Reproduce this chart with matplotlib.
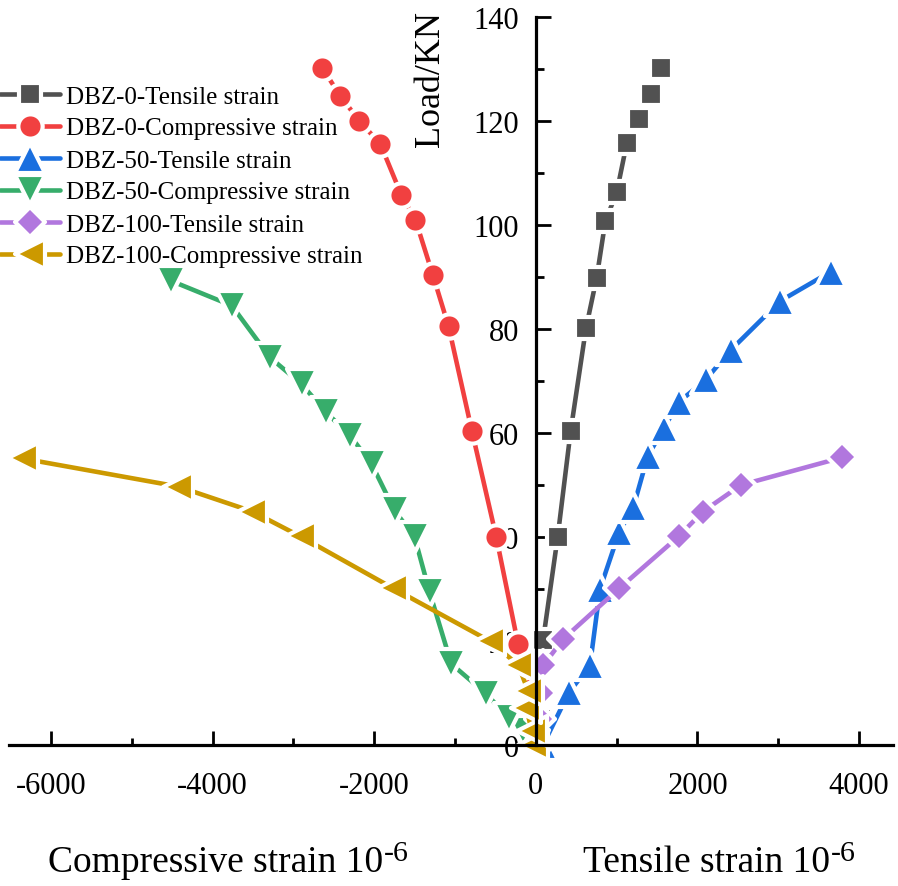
import matplotlib
matplotlib.use('Agg')
import matplotlib.pyplot as plt
from matplotlib.markers import MarkerStyle
from matplotlib.ticker import MultipleLocator, FixedLocator

plt.rcParams['font.family'] = ['Liberation Serif', 'DejaVu Serif']
plt.rcParams['axes.unicode_minus'] = False

# ---------------- data ----------------
labels = ['DBZ-0-Tensile strain', 'DBZ-0-Compressive strain',
          'DBZ-50-Tensile strain', 'DBZ-50-Compressive strain',
          'DBZ-100-Tensile strain', 'DBZ-100-Compressive strain']
colors = ['#515151', '#F14040', '#1A6FDF', '#37AD6B', '#B177DE', '#CC9900']
markers = ['s', 'o', '^', 'v', 'D', '<']
msizes = [15.5, 17.5, 22.0, 22.0, 15.0, 22.0]

dbz0_t_x = [50, 60, 60, 70, 90, 270, 430, 620, 753, 860, 1001, 1125, 1274, 1423, 1551]
dbz0_t_y = [0, 5, 10, 16, 20.2, 40, 60.3, 80.1, 89.9, 100.7, 106.3, 115.7, 120.4, 125.2, 130.1]

dbz0_c_x = [0, -70, -60, -150, -220, -490, -790, -1080, -1275, -1490, -1665, -1925, -2184, -2419, -2643]
dbz0_c_y = [0, 5.6, 10.8, 15.3, 19.4, 40, 60.3, 80.5, 90.4, 101, 105.8, 115.6, 120, 124.8, 130.2]

dbz50_t_x = [90, 409, 670, 794, 1030, 1208, 1386, 1588, 1766, 2105, 2415, 3027, 3648]
dbz50_t_y = [0, 10.1, 15.3, 30, 40.9, 45.8, 55.6, 61, 65.9, 70.3, 76, 85.4, 91]

dbz50_c_x = [-20, -160, -330, -612, -1046, -1315, -1501, -1749, -2031, -2299, -2597, -2900, -3288, -3763, -4520]
dbz50_c_y = [0, 2.7, 5.1, 9.8, 15.6, 29.4, 40, 45.1, 54, 59.5, 64, 69.4, 74.5, 84.5, 89.3]

dbz100_t_x = [40, 50, 60, 91, 340, 1030, 1766, 2068, 2540, 3792]
dbz100_t_y = [0, 5, 10, 15.3, 20.4, 30.1, 40.1, 44.9, 50, 55.3]

dbz100_c_x = [-40, -53, -116, -95, -219, -571, -1762, -2912, -3508, -4426, -6352]
dbz100_c_y = [0, 2.7, 7.2, 10.4, 15.4, 20, 30.1, 40.1, 44.9, 49.7, 55.1]

series_x = [dbz0_t_x, dbz0_c_x, dbz50_t_x, dbz50_c_x, dbz100_t_x, dbz100_c_x]
series_y = [dbz0_t_y, dbz0_c_y, dbz50_t_y, dbz50_c_y, dbz100_t_y, dbz100_c_y]

x_major = [-6000, -4000, -2000, 0, 2000, 4000]
x_minor = [-5000, -3000, -1000, 1000, 3000]
y_major = [0, 20, 40, 60, 80, 100, 120, 140]

W, H = 898, 887
fig = plt.figure(figsize=(W / 100, H / 100), dpi=100)
ax = fig.add_axes([9 / W, 1 - 746 / H, (893 - 9) / W, (746 - 18) / H])

for xs, ys, c, m, ms, lab in zip(series_x, series_y, colors, markers, msizes, labels):
    ax.plot(xs, ys, color=c, lw=3.3, solid_capstyle='round',
            marker=MarkerStyle(m, joinstyle='round'), markersize=ms,
            markerfacecolor=c, markeredgecolor='white', markeredgewidth=3,
            label=lab, clip_on=False)

ax.set_xlim(-6520, 4420)
ax.set_ylim(0, 140)

for s in ['top', 'right']:
    ax.spines[s].set_visible(False)
ax.spines['left'].set_position(('data', 0))
ax.spines['left'].set_linewidth(2.3)
ax.spines['bottom'].set_linewidth(2.3)

ax.xaxis.set_major_locator(FixedLocator(x_major))
ax.xaxis.set_minor_locator(FixedLocator(x_minor))
ax.set_xticklabels([str(v) for v in x_major])
ax.yaxis.set_major_locator(FixedLocator(y_major))
ax.yaxis.set_minor_locator(MultipleLocator(10))
ax.set_yticklabels([str(v) for v in y_major])

ax.tick_params(axis='x', which='major', direction='in', length=10, width=2, pad=19, labelsize=22)
ax.tick_params(axis='x', which='minor', direction='in', length=5, width=2)
ax.tick_params(axis='y', which='major', direction='in', length=10.5, width=2, pad=12, labelsize=22)
ax.tick_params(axis='y', which='minor', direction='in', length=5.5, width=2)

# y label
fig.text(431 / W, 1 - 147 / H, 'Load/KN', rotation=90, ha='center', va='bottom', fontsize=26)

# x labels with superscripts
renderer = fig.canvas.get_renderer()
for txt, x0 in [('Compressive strain 10', 48), ('Tensile strain 10', 583)]:
    t = fig.text(x0 / W, 1 - 872 / H, txt, ha='left', va='baseline', fontsize=27)
    bb = t.get_window_extent(renderer)
    fig.text((bb.x1 + 1) / W, 1 - 861 / H, '-6', ha='left', va='baseline', fontsize=21.5)

leg = fig.legend(loc='upper left', bbox_to_anchor=(0.0, 1 - 86 / H), bbox_transform=fig.transFigure,
                 frameon=False, fontsize=18, handlelength=2.4, handletextpad=0.25,
                 borderpad=0, borderaxespad=0, labelspacing=0.38, numpoints=1)

fig.savefig('out.png', dpi=100)
